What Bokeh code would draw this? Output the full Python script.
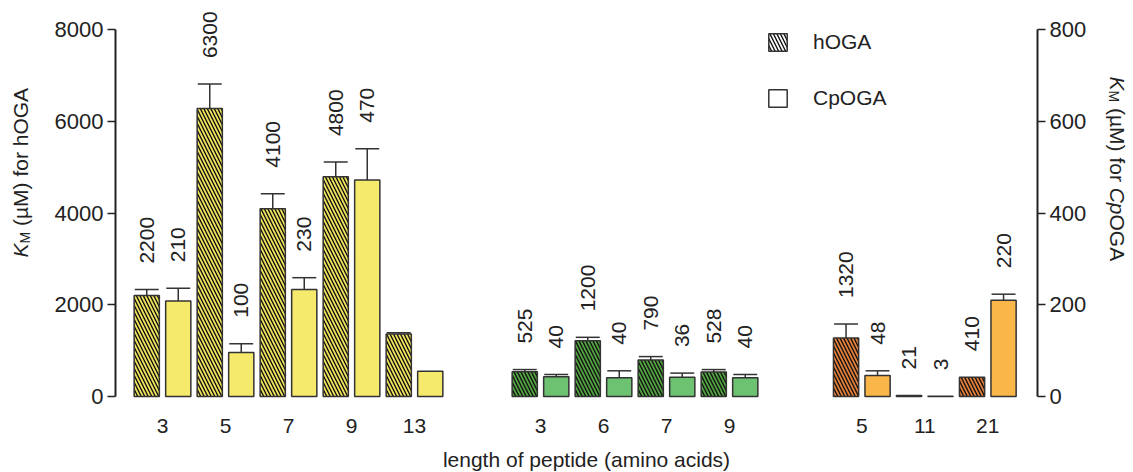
import math
from bokeh.plotting import figure
from bokeh.models import (Range1d, LinearAxis, FixedTicker, Label, Legend, LegendItem,
                          ColumnDataSource)
from bokeh.core.properties import value
from bokeh.embed import file_html
from bokeh.resources import INLINE

# ---------------- data ----------------
yel_len = ["3", "5", "7", "9", "13"]
yel_h = [2200, 6280, 4095, 4790, 1360]          # hOGA (left axis, uM)
yel_h_err = [130, 530, 325, 320, 30]
yel_cp = [208, 96, 233, 472, 55]                # CpOGA (right axis, uM)
yel_cp_err = [28, 19, 26, 68, 0]
yel_h_lbl = ["2200", "6300", "4100", "4800", ""]
yel_cp_lbl = ["210", "100", "230", "470", ""]

grn_len = ["3", "6", "7", "9"]
grn_h = [540, 1215, 797, 536]
grn_h_err = [47, 75, 73, 51]
grn_cp = [43, 41, 42, 41]
grn_cp_err = [5, 15, 9, 7]
grn_h_lbl = ["525", "1200", "790", "528"]
grn_cp_lbl = ["40", "40", "36", "40"]

org_len = ["5", "11", "21"]
org_h = [1275, 21, 420]
org_h_err = [305, 0, 0]
org_cp = [46, 0.3, 210]
org_cp_err = [10, 0, 13]
org_h_lbl = ["1320", "21", "410"]
org_cp_lbl = ["48", "3", "220"]

x_title = "length of peptide (amino acids)"

# ---------------- styling ----------------
FONT = "Liberation Sans"
TXT = "#222222"
EDGE = "#333333"
groups = [
    dict(lens=yel_len, h=yel_h, he=yel_h_err, cp=yel_cp, ce=yel_cp_err, hl=yel_h_lbl, cl=yel_cp_lbl,
         start=0.0, hatch_bg="#F2E55E", plain="#F5EA6C"),
    dict(lens=grn_len, h=grn_h, he=grn_h_err, cp=grn_cp, ce=grn_cp_err, hl=grn_h_lbl, cl=grn_cp_lbl,
         start=6.0, hatch_bg="#52A440", plain="#6DC272"),
    dict(lens=org_len, h=org_h, he=org_h_err, cp=org_cp, ce=org_cp_err, hl=org_h_lbl, cl=org_cp_lbl,
         start=11.1, hatch_bg="#E4803A", plain="#FBB64A"),
]
OFF = 0.25
BW = 0.4
CAP = 0.19

centers, tick_lbls = [], []
H = dict(x=[], top=[], color=[], etop=[], lbl=[])
C = dict(x=[], top=[], color=[], etop=[], lbl=[])
for g in groups:
    for i, L in enumerate(g["lens"]):
        c = round(g["start"] + i, 3)
        centers.append(c)
        tick_lbls.append(L)
        H["x"].append(c - OFF); H["top"].append(g["h"][i]); H["color"].append(g["hatch_bg"])
        H["etop"].append(g["h"][i] + g["he"][i]); H["lbl"].append(g["hl"][i])
        C["x"].append(c + OFF); C["top"].append(g["cp"][i]); C["color"].append(g["plain"])
        C["etop"].append(g["cp"][i] + g["ce"][i]); C["lbl"].append(g["cl"][i])

# ---------------- figure: the frame covers the whole canvas, axes sit at fixed locations ----
W, HT = 1133, 472
PXX = 63.0              # px per x unit
X_ORIGIN_PX = 162.0     # px of x = 0
PXY = 367.0 / 8000      # px per hOGA unit
Y_ORIGIN_PX = 396.0     # px of y = 0
X0 = -X_ORIGIN_PX / PXX
X1 = X0 + W / PXX
Y0 = -(HT - Y_ORIGIN_PX) / PXY
Y1 = Y_ORIGIN_PX / PXY

def dx(px):
    return X0 + px / PXX
def dy(py):
    return (Y_ORIGIN_PX - py) / PXY

p = figure(frame_width=W, frame_height=HT, x_range=Range1d(X0, X1), y_range=Range1d(Y0, Y1),
           output_backend="svg", toolbar_location=None,
           min_border=0, min_border_left=0, min_border_right=0, min_border_top=0, min_border_bottom=0)
p.extra_y_ranges = {"cp": Range1d(Y0 / 10.0, Y1 / 10.0)}
p.grid.visible = False
p.outline_line_color = None
p.background_fill_color = "white"
p.border_fill_color = "white"

def style_y(ax):
    ax.major_tick_out = 8
    ax.major_tick_in = 0
    ax.minor_tick_line_color = None
    ax.axis_line_width = 2
    ax.axis_line_color = TXT
    ax.major_tick_line_width = 1.5
    ax.major_tick_line_color = TXT
    ax.major_label_text_font_size = "22px"
    ax.major_label_text_font = FONT
    ax.major_label_text_color = TXT
    ax.major_label_standoff = 4

yl = p.yaxis[0]
yl.ticker = FixedTicker(ticks=[0, 2000, 4000, 6000, 8000])
yl.bounds = (0, 8000)
yl.fixed_location = dx(115)
style_y(yl)
yr = LinearAxis(y_range_name="cp", ticker=FixedTicker(ticks=[0, 200, 400, 600, 800]), bounds=(0, 800),
                fixed_location=dx(1037))
style_y(yr)
p.add_layout(yr, "right")

# bottom axis
xa = p.xaxis[0]
xa.fixed_location = 0
xa.ticker = FixedTicker(ticks=centers)
xa.major_label_overrides = {c: l for c, l in zip(centers, tick_lbls)}
xa.axis_line_color = None
xa.major_tick_line_color = None
xa.minor_tick_line_color = None
xa.major_label_standoff = 16
xa.major_label_text_font_size = "21px"
xa.major_label_text_font = FONT
xa.major_label_text_color = TXT

# bars
sH = ColumnDataSource(H)
sC = ColumnDataSource(C)
p.vbar(x="x", top="top", bottom=0, width=BW, source=sH, fill_color="color", line_color=EDGE,
       line_width=1.5, hatch_pattern="\\", hatch_color="#111111", hatch_scale=7, hatch_weight=1.4)
p.vbar(x="x", top="top", bottom=0, width=BW, source=sC, fill_color="color", line_color=EDGE,
       line_width=1.5, y_range_name="cp")

# error bars
def err_src(d):
    idx = [i for i in range(len(d["x"])) if d["etop"][i] > d["top"][i]]
    return ColumnDataSource(dict(
        x=[d["x"][i] for i in idx], top=[d["top"][i] for i in idx], etop=[d["etop"][i] for i in idx],
        x0=[d["x"][i] - CAP for i in idx], x1=[d["x"][i] + CAP for i in idx]))

eH, eC = err_src(H), err_src(C)
for s, rn in [(eH, "default"), (eC, "cp")]:
    p.segment(x0="x", y0="top", x1="x", y1="etop", source=s, line_color=EDGE, line_width=1.5, y_range_name=rn)
    p.segment(x0="x0", y0="etop", x1="x1", y1="etop", source=s, line_color=EDGE, line_width=1.5, y_range_name=rn)

# value labels
def lbl_src(d):
    idx = [i for i in range(len(d["x"])) if d["lbl"][i]]
    return ColumnDataSource(dict(x=[d["x"][i] for i in idx],
                                 y=[max(d["etop"][i], d["top"][i]) for i in idx],
                                 t=[d["lbl"][i] for i in idx]))

for s, rn in [(lbl_src(H), "default"), (lbl_src(C), "cp")]:
    p.text(x="x", y="y", text="t", source=s, angle=math.pi / 2, text_align="left", text_baseline="middle",
           y_offset=-26, text_font=value(FONT), text_font_size="21px", text_color=TXT, y_range_name=rn)

# legend (swatches only; renderers carry a single NaN point so nothing is drawn in the plot)
nan = float("nan")
r1 = p.vbar(x=[nan], top=[nan], width=BW, fill_color="white", line_color=EDGE, line_width=1.5,
            hatch_pattern="\\", hatch_color="#111111", hatch_scale=7, hatch_weight=1.4)
r2 = p.vbar(x=[nan], top=[nan], width=BW, fill_color="white", line_color=EDGE, line_width=1.5)
leg = Legend(items=[LegendItem(label="hOGA", renderers=[r1]), LegendItem(label="CpOGA", renderers=[r2])],
             location=(766, HT - 110), orientation="vertical", padding=0, margin=0, spacing=32,
             glyph_width=23, glyph_height=22, label_height=22, label_standoff=24,
             label_text_font_size="21px", label_text_font=FONT, label_text_color=TXT,
             border_line_color=None, background_fill_alpha=0)
p.add_layout(leg)

# axis titles (built from pieces, for italic K / Cp and subscript M)
def lab(text, px, py, ang, size="21px", style="normal", align="left", base="alphabetic"):
    p.add_layout(Label(x=dx(px), y=dy(py), text=text, angle=ang, text_align=align,
                       text_baseline=base, text_font=FONT, text_font_size=size,
                       text_font_style=style, text_color=TXT))

# x title
lab(x_title, 586, 459, 0, align="center", base="middle")
# left title: reads bottom -> top
lab("K", 20, 257, math.pi / 2, style="italic")
lab("M", 24, 243, math.pi / 2, size="14px")
lab("(\u00b5M) for hOGA", 20, 225.5, math.pi / 2)
# right title: reads top -> bottom
a = -math.pi / 2
y = 76
lab("K", 1117, y, a, style="italic"); y += 14
lab("M", 1113, y, a, size="14px"); y += 11.7 + 5.8
lab("(\u00b5M) for", 1117, y, a); y += 73.9 + 5.8
lab("Cp", 1117, y, a, style="italic"); y += 26.8
lab("OGA", 1117, y, a)

open("out.html", "w").write(file_html(p, INLINE))
